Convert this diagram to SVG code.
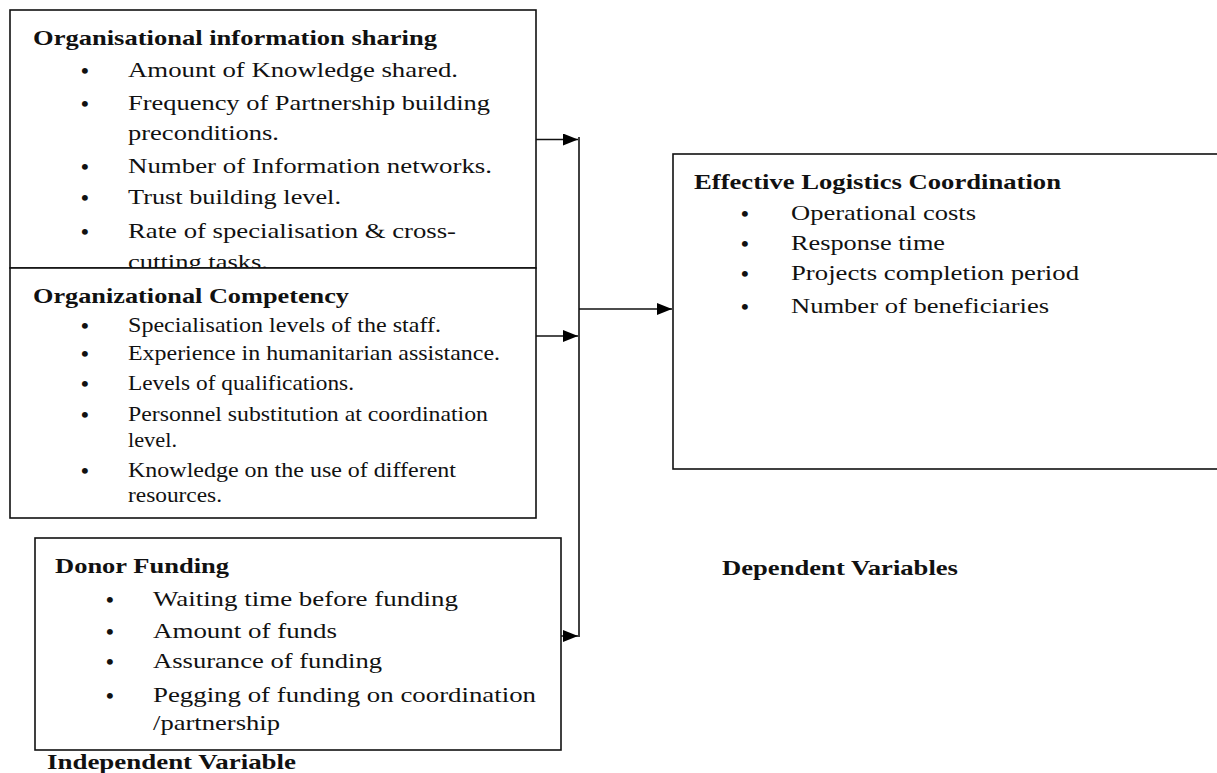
<svg xmlns="http://www.w3.org/2000/svg" width="1217" height="773" viewBox="0 0 1217 773">
<defs>
<marker id="arr" markerUnits="userSpaceOnUse" markerWidth="16" markerHeight="12" refX="15" refY="6" orient="auto">
<path d="M0,0 L15,6 L0,12 Z" fill="#000"/>
</marker>
<style>
text{font-family:"Liberation Serif",Tinos,"Times New Roman",Times,"Nimbus Roman","Nimbus Roman No9 L",FreeSerif,serif;fill:#111}
.box{fill:#fff;stroke:#111;stroke-width:1.6}
.t{font-size:22px}
.h{font-size:22px;font-weight:bold}
.b{font-size:22px;font-weight:bold}
.c{fill:none;stroke:#111;stroke-width:1.6}
</style>
</defs>
<rect width="1217" height="773" fill="#fff"/>

<g id="connectors">
<path class="c" d="M579,137 V637"/>
<path class="c" d="M536,139.5 H578" marker-end="url(#arr)"/>
<path class="c" d="M536,336 H578" marker-end="url(#arr)"/>
<path class="c" d="M533,636 H578" marker-end="url(#arr)"/>
<path class="c" d="M579,309 H672" marker-end="url(#arr)"/>
</g>

<g id="info-sharing">
<rect class="box" x="10" y="10" width="526" height="258"/>
<text class="h" x="33" y="45" textLength="404" lengthAdjust="spacingAndGlyphs">Organisational information sharing</text>
<text class="b" x="81" y="78">•</text>
<text class="t" x="128" y="77" textLength="330" lengthAdjust="spacingAndGlyphs">Amount of Knowledge shared.</text>
<text class="b" x="81" y="111">•</text>
<text class="t" x="128" y="110" textLength="362" lengthAdjust="spacingAndGlyphs">Frequency of Partnership building</text>
<text class="t" x="128" y="140" textLength="151" lengthAdjust="spacingAndGlyphs">preconditions.</text>
<text class="b" x="81" y="174">•</text>
<text class="t" x="128" y="173" textLength="364" lengthAdjust="spacingAndGlyphs">Number of Information networks.</text>
<text class="b" x="81" y="205">•</text>
<text class="t" x="128" y="204" textLength="213" lengthAdjust="spacingAndGlyphs">Trust building level.</text>
<text class="b" x="81" y="239">•</text>
<text class="t" x="128" y="238" textLength="328" lengthAdjust="spacingAndGlyphs">Rate of specialisation &amp; cross-</text>
<text class="t" x="128" y="269" textLength="140" lengthAdjust="spacingAndGlyphs">cutting tasks.</text>
</g>

<g id="competency">
<rect class="box" x="10" y="268" width="526" height="250"/>
<text class="h" x="33" y="303" textLength="316" lengthAdjust="spacingAndGlyphs">Organizational Competency</text>
<text class="b" x="81" y="333">•</text>
<text class="t" x="128" y="332" textLength="313" lengthAdjust="spacingAndGlyphs">Specialisation  levels of the staff.</text>
<text class="b" x="81" y="361">•</text>
<text class="t" x="128" y="360" textLength="372" lengthAdjust="spacingAndGlyphs">Experience in humanitarian  assistance.</text>
<text class="b" x="81" y="391">•</text>
<text class="t" x="128" y="390" textLength="226" lengthAdjust="spacingAndGlyphs">Levels of qualifications.</text>
<text class="b" x="81" y="422">•</text>
<text class="t" x="128" y="421" textLength="360" lengthAdjust="spacingAndGlyphs">Personnel substitution at coordination</text>
<text class="t" x="128" y="447" textLength="49" lengthAdjust="spacingAndGlyphs">level.</text>
<text class="b" x="81" y="478">•</text>
<text class="t" x="128" y="477" textLength="328" lengthAdjust="spacingAndGlyphs">Knowledge on the use of different</text>
<text class="t" x="128" y="502" textLength="94" lengthAdjust="spacingAndGlyphs">resources.</text>
</g>

<g id="donor-funding">
<rect class="box" x="35" y="538" width="526" height="212"/>
<text class="h" x="55" y="573" textLength="174" lengthAdjust="spacingAndGlyphs">Donor Funding</text>
<text class="b" x="106" y="607">•</text>
<text class="t" x="153" y="606" textLength="305" lengthAdjust="spacingAndGlyphs">Waiting time before funding</text>
<text class="b" x="106" y="639">•</text>
<text class="t" x="153" y="638" textLength="184" lengthAdjust="spacingAndGlyphs">Amount of funds</text>
<text class="b" x="106" y="669">•</text>
<text class="t" x="153" y="668" textLength="229" lengthAdjust="spacingAndGlyphs">Assurance of funding</text>
<text class="b" x="106" y="703">•</text>
<text class="t" x="153" y="702" textLength="383" lengthAdjust="spacingAndGlyphs">Pegging  of funding on coordination</text>
<text class="t" x="153" y="730" textLength="127" lengthAdjust="spacingAndGlyphs">/partnership</text>
</g>

<g id="independent-label">
<text class="h" x="47" y="769" textLength="249" lengthAdjust="spacingAndGlyphs">Independent Variable</text>
</g>

<g id="logistics-coordination">
<rect class="box" x="673" y="154" width="600" height="315"/>
<text class="h" x="694" y="189" textLength="367" lengthAdjust="spacingAndGlyphs">Effective Logistics Coordination</text>
<text class="b" x="741" y="221">•</text>
<text class="t" x="791" y="220" textLength="185" lengthAdjust="spacingAndGlyphs">Operational costs</text>
<text class="b" x="741" y="251">•</text>
<text class="t" x="791" y="250" textLength="154" lengthAdjust="spacingAndGlyphs">Response time</text>
<text class="b" x="741" y="281">•</text>
<text class="t" x="791" y="280" textLength="288" lengthAdjust="spacingAndGlyphs">Projects completion period</text>
<text class="b" x="741" y="314">•</text>
<text class="t" x="791" y="313" textLength="258" lengthAdjust="spacingAndGlyphs">Number of beneficiaries</text>
</g>

<g id="dependent-label">
<text class="h" x="722" y="575" textLength="236" lengthAdjust="spacingAndGlyphs">Dependent Variables</text>
</g>
</svg>
